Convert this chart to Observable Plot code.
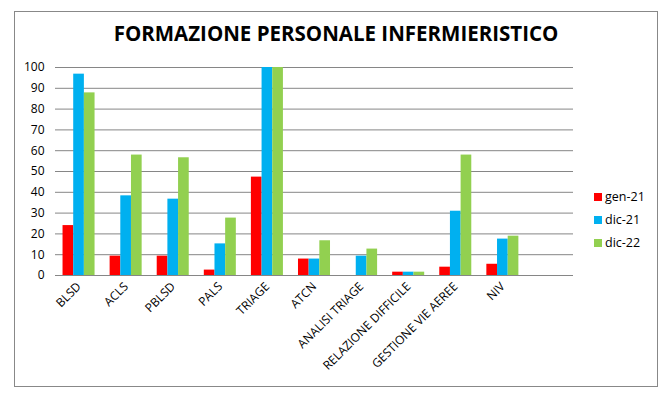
<!DOCTYPE html>
<html>
<head>
<meta charset="utf-8">
<script src="https://cdn.jsdelivr.net/npm/d3@7"></script>
<script src="https://cdn.jsdelivr.net/npm/@observablehq/plot@0.6"></script>
<style>
  html, body { margin: 0; padding: 0; background: #fff; }
  body { width: 672px; height: 397px; position: relative; overflow: hidden; font-family: "Open Sans", sans-serif; }
  #frame { position: absolute; left: 14px; top: 11px; width: 642px; height: 374px; border: 1px solid #888; box-sizing: content-box; }
  #title { position: absolute; left: 0; width: 672px; top: 19px; text-align: center; font-weight: 700; font-size: 20.5px; color: #000; }
  #chart { position: absolute; left: 0; top: 56px; }
  #legend { position: absolute; left: 594px; top: 185px; font-size: 12.5px; color: #000; }
  #legend .row { display: flex; align-items: center; height: 23px; }
  #legend .sw { width: 8px; height: 8px; margin-right: 3px; }
</style>
</head>
<body>
<div id="frame"></div>
<div id="title">FORMAZIONE PERSONALE INFERMIERISTICO</div>
<div id="chart"></div>
<div id="legend"></div>
<script>
const categories = ["BLSD", "ACLS", "PBLSD", "PALS", "TRIAGE", "ATCN", "ANALISI TRIAGE", "RELAZIONE DIFFICILE", "GESTIONE VIE AEREE", "NIV"];
const seriesNames = ["gen-21", "dic-21", "dic-22"];
const seriesColors = ["#FF0000", "#00B0F0", "#92D050"];
const gen21 = [24, 9.3, 9.3, 2.6, 47.3, 7.9, 0, 1.6, 4, 5.4];
const dic21 = [96.8, 38.3, 36.7, 15.2, 100, 7.9, 9.3, 1.6, 30.9, 17.5];
const dic22 = [87.8, 57.9, 56.6, 27.6, 100, 16.7, 12.7, 1.6, 57.9, 18.9];
const yTicks = [0, 10, 20, 30, 40, 50, 60, 70, 80, 90, 100];

const seriesValues = [gen21, dic21, dic22];
const data = [];
seriesNames.forEach((s, k) => categories.forEach((c, i) => data.push({category: c, series: s, value: seriesValues[k][i]})));

const width = 672, height = 330;
const marginLeft = 55, marginRight = 99, marginTop = 11, marginBottom = 111;
const xDomain = [...categories, " "];
const paddingInner = 0.32, paddingOuter = 0.16;
const plotW = width - marginLeft - marginRight;
const step = plotW / (xDomain.length - paddingInner + 2 * paddingOuter);
const bw = step * (1 - paddingInner);
const sub = bw / seriesNames.length;

const barMarks = seriesNames.map((s, k) => Plot.barY(data.filter(d => d.series === s), {
  x: "category", y: "value", fill: "series",
  insetLeft: sub * k, insetRight: sub * (seriesNames.length - 1 - k)
}));

const chart = Plot.plot({
  width, height, marginLeft, marginRight, marginTop, marginBottom,
  style: {fontFamily: "Open Sans, sans-serif", fontSize: "11px", color: "#000", background: "transparent"},
  x: {type: "band", domain: xDomain, paddingInner, paddingOuter, round: false, label: null},
  y: {domain: [0, 100], ticks: yTicks, label: null},
  color: {domain: seriesNames, range: seriesColors},
  marks: [
    Plot.gridY(yTicks, {stroke: "#868686", strokeOpacity: 1, strokeWidth: 1}),
    ...barMarks,
    Plot.ruleY([0], {stroke: "#868686"}),
    Plot.axisY(yTicks, {tickSize: 0, tickPadding: 11, fontSize: 12, label: null}),
    Plot.axisX({tickSize: 0, tickPadding: 9, tickRotate: -45, fontSize: 12, label: null})
  ]
});
document.getElementById("chart").appendChild(chart);

const legend = document.getElementById("legend");
seriesNames.forEach((s, k) => {
  const row = document.createElement("div");
  row.className = "row";
  const sw = document.createElement("span");
  sw.className = "sw";
  sw.style.background = chart.scale("color").apply(s);
  const t = document.createElement("span");
  t.textContent = s;
  row.appendChild(sw); row.appendChild(t);
  legend.appendChild(row);
});
</script>
</body>
</html>
